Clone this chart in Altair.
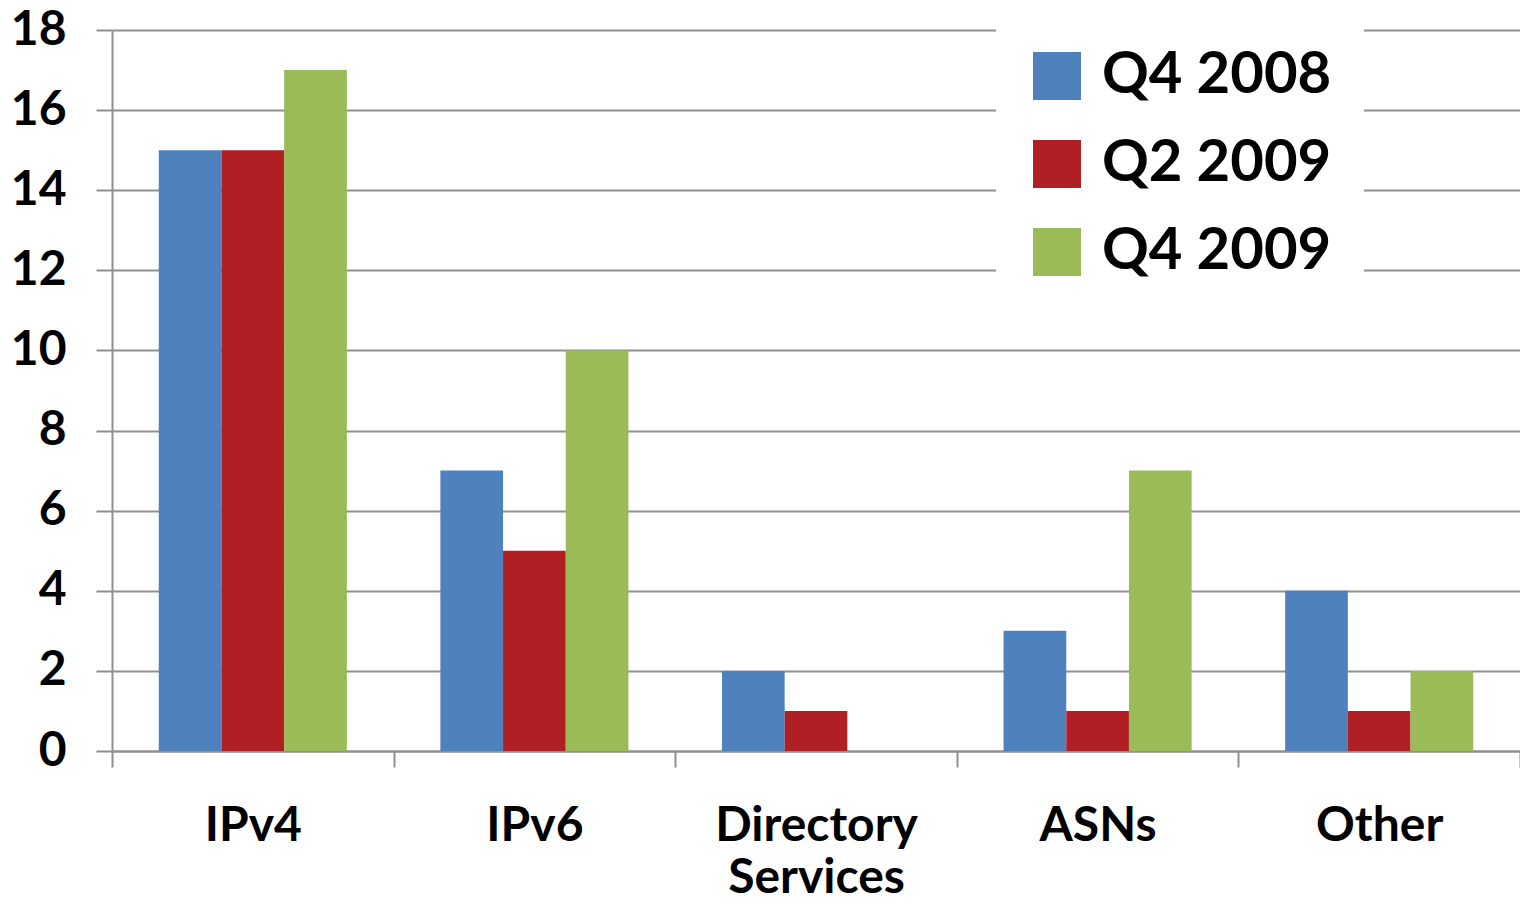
import altair as alt
import pandas as pd

categories = ["IPv4", "IPv6", "Directory Services", "ASNs", "Other"]
series_names = ["Q4 2008", "Q2 2009", "Q4 2009"]
q4_2008 = [15, 7, 2, 3, 4]
q2_2009 = [15, 5, 1, 1, 1]
q4_2009 = [17, 10, 0, 7, 2]
colors = ["#4F81BD", "#B01F24", "#9BBB59"]
y_ticks = [0, 2, 4, 6, 8, 10, 12, 14, 16, 18]

rows = []
for name, vals in zip(series_names, [q4_2008, q2_2009, q4_2009]):
    for c, v in zip(categories, vals):
        rows.append({"category": c, "series": name, "value": v})
df = pd.DataFrame(rows)

FONT = "Lato"
GRID = "#909090"

chart = alt.Chart(df).mark_bar().encode(
    x=alt.X("category:N", sort=categories,
            scale=alt.Scale(paddingInner=0, paddingOuter=0),
            axis=alt.Axis(title=None, labelAngle=0, tickBand="extent",
                          tickSize=16, tickColor=GRID, tickWidth=2,
                          domainColor=GRID, domainWidth=2,
                          labelFont=FONT, labelFontSize=48, labelFontWeight="bold",
                          labelColor="black", labelPadding=35, labelLineHeight=52,
                          labelLimit=400,
                          labelExpr="datum.label == 'Directory Services' ? ['Directory', 'Services'] : datum.label")),
    xOffset=alt.XOffset("series:N", sort=series_names,
                        scale=alt.Scale(paddingInner=0, paddingOuter=0.746)),
    y=alt.Y("value:Q", scale=alt.Scale(domain=[0, 18], nice=False),
            axis=alt.Axis(title=None, values=y_ticks, grid=True, gridColor=GRID, gridWidth=2,
                          tickSize=16, tickColor=GRID, tickWidth=2,
                          domainColor=GRID, domainWidth=2,
                          labelFont=FONT, labelFontSize=48, labelFontWeight="bold",
                          labelColor="black", labelPadding=30)),
    color=alt.Color("series:N", sort=series_names,
                    scale=alt.Scale(domain=series_names, range=colors),
                    legend=alt.Legend(title=None, orient="none", legendX=884, legendY=-15,
                                      fillColor="white", padding=32,
                                      symbolType="square", symbolSize=2304,
                                      symbolStrokeWidth=0, symbolOpacity=1,
                                      labelFont=FONT, labelFontSize=58, labelFontWeight="bold",
                                      labelColor="black", labelOffset=16, rowPadding=30,
                                      labelLimit=400)),
).properties(
    width=1408, height=721,
    autosize=alt.AutoSizeParams(type="none"),
    padding={"left": 104, "top": 22, "right": 0, "bottom": 145},
).configure_view(strokeWidth=0)

chart.save("out.html", embed_options={"renderer": "svg", "actions": False})
